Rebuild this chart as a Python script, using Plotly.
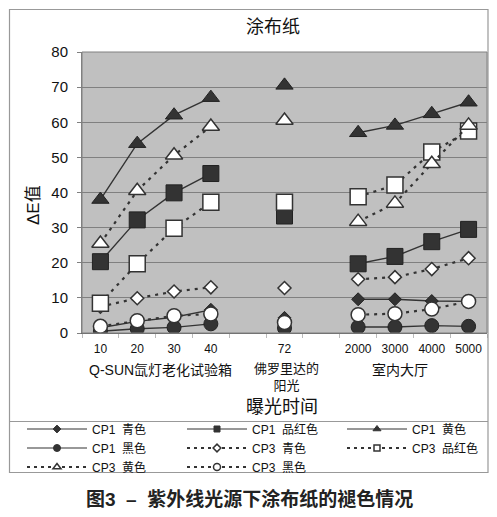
import plotly.graph_objects as go

# ---------------- data ----------------
categories = ["10", "20", "30", "40", " ", "72", "  ", "2000", "3000", "4000", "5000"]

cp1_cyan    = [1.5, 3.3, 4.5, 6.6, None, 4.3, None, 9.6, 9.6, 9.1, 9.0]
cp1_magenta = [20.3, 32.2, 39.9, 45.4, None, 33.3, None, 19.7, 21.8, 26.0, 29.5]
cp1_yellow  = [38.0, 53.9, 62.0, 67.0, None, 70.5, None, 57.0, 59.1, 62.4, 65.7]
cp1_black   = [0.5, 1.2, 1.6, 2.6, None, 1.4, None, 1.7, 1.7, 2.1, 1.9]
cp3_cyan    = [7.5, 9.9, 11.8, 13.0, None, 12.8, None, 15.3, 15.9, 18.2, 21.3]
cp3_magenta = [8.5, 19.7, 29.8, 37.2, None, 37.2, None, 38.8, 42.1, 51.5, 57.5]
cp3_yellow  = [25.5, 40.5, 50.6, 58.8, None, 60.5, None, 31.7, 36.9, 48.2, 59.1]
cp3_black   = [1.9, 3.5, 4.9, 5.4, None, 3.0, None, 5.2, 5.5, 6.8, 9.0]

series_names = ["CP1  青色", "CP1  品红色", "CP1  黄色", "CP1  黑色",
                "CP3  青色", "CP3  品红色", "CP3  黄色", "CP3  黑色"]
series_values = [cp1_cyan, cp1_magenta, cp1_yellow, cp1_black,
                 cp3_cyan, cp3_magenta, cp3_yellow, cp3_black]

group_labels = ["Q-SUN氙灯老化试验箱", "佛罗里达的<br>阳光", "室内大厅"]
group_pos = [1.62, 5.05, 8.14]

title_text = "涂布纸"
y_title = "ΔE值"
x_title = "曝光时间"
caption = "<b>图3  –  紫外线光源下涂布纸的褪色情况</b>"

# ---------------- styles ----------------
DARK = "#333333"
symbols = ["diamond", "square", "triangle-up", "circle"] * 2
sizes = [10, 16, 15, 14, 10, 16, 15, 14]
leg_sizes = [6, 6, 7, 7, 6, 6, 7, 7]
FONT = "Liberation Sans, Arial, Noto Sans CJK SC, sans-serif"

# reference-pixel layout (page body has an 8px default margin)
OFF = 8
W, H = 497 - 2 * OFF, 517 - 2 * OFF
L, R, T, B = 82, 487, 52, 333          # plot area in reference pixels
PW, PH = R - L, B - T


def px_x(px):
    return (px - L) / PW


def px_y(py):
    return (B - py) / PH


fig = go.Figure()

for i, (name, vals) in enumerate(zip(series_names, series_values)):
    cp3 = i >= 4
    line = dict(color=DARK, width=2.2 if cp3 else 1.4,
                dash="3px,5px" if cp3 else "solid")
    fill = "white" if cp3 else DARK
    fig.add_trace(go.Scatter(
        x=categories, y=vals, mode="lines+markers", name=name,
        showlegend=False, connectgaps=False, line=line,
        marker=dict(symbol=symbols[i], size=sizes[i], color=fill,
                    line=dict(color=DARK if cp3 else "#222222", width=1.5 if cp3 else 1)),
    ))

for i, name in enumerate(series_names):
    cp3 = i >= 4
    fig.add_trace(go.Scatter(
        x=[None], y=[None], mode="lines+markers", name=name, showlegend=True,
        line=dict(color=DARK, width=2 if cp3 else 1.2,
                  dash="3px,4px" if cp3 else "solid"),
        marker=dict(symbol=symbols[i], size=leg_sizes[i],
                    color="white" if cp3 else DARK,
                    line=dict(color=DARK, width=1.5 if cp3 else 1)),
    ))

annotations = [
    dict(text=title_text, xref="paper", yref="paper", x=px_x(273), y=px_y(27),
         showarrow=False, font=dict(size=18, color="#111111"), xanchor="center", yanchor="middle"),
    dict(text=y_title, xref="paper", yref="paper", x=px_x(33), y=px_y(205),
         showarrow=False, textangle=-90, font=dict(size=17, color="#111111"),
         xanchor="center", yanchor="middle"),
    dict(text=x_title, xref="paper", yref="paper", x=px_x(282), y=px_y(407),
         showarrow=False, font=dict(size=18, color="#111111"), xanchor="center", yanchor="middle"),
    dict(text=caption, xref="paper", yref="paper", x=px_x(249), y=px_y(499),
         showarrow=False, font=dict(size=19, color="#222222"), xanchor="center", yanchor="middle"),
]
for lab, pos in zip(group_labels, group_pos):
    two = "<br>" in lab
    annotations.append(dict(text=lab, xref="x", yref="paper", x=pos,
                            y=px_y(377 if two else 370),
                            showarrow=False, font=dict(size=13 if two else 14, color="#111111"),
                            xanchor="center", yanchor="middle"))

shapes = [
    # outer frame
    dict(type="rect", xref="paper", yref="paper", x0=px_x(9.5), x1=px_x(488),
         y0=px_y(472.5), y1=px_y(9.5), line=dict(color="#999999", width=1.2)),
    # separator above legend
    dict(type="line", xref="paper", yref="paper", x0=px_x(9.5), x1=px_x(488),
         y0=px_y(421.5), y1=px_y(421.5), line=dict(color="#999999", width=1.2)),
    # plot area border
    dict(type="rect", xref="paper", yref="paper", x0=0, x1=1, y0=0, y1=1,
         line=dict(color="#808080", width=1), layer="above"),
]

fig.update_layout(
    width=W, height=H,
    margin=dict(l=L - OFF, r=W - (R - OFF), t=T - OFF, b=H - (B - OFF), autoexpand=False),
    paper_bgcolor="white", plot_bgcolor="#C0C0C0",
    font=dict(family=FONT, color="#111111"),
    annotations=annotations, shapes=shapes,
    legend=dict(orientation="h", x=px_x(22), y=px_y(414.5), xanchor="left", yanchor="top",
                itemwidth=60, entrywidth=85, entrywidthmode="pixels", font=dict(size=12),
                bgcolor="rgba(0,0,0,0)", traceorder="normal", itemclick=False),
    xaxis=dict(type="category", categoryorder="array", categoryarray=categories,
               range=[-0.5, len(categories) - 0.5], showgrid=False, zeroline=False,
               showline=True, linecolor="#666666", linewidth=1,
               ticks="outside", tickson="boundaries", ticklen=4, tickcolor="#BBBBBB",
               ticklabelstandoff=5, tickfont=dict(size=12), fixedrange=True),
    yaxis=dict(range=[0, 80], dtick=10, showgrid=True, gridcolor="#808080", gridwidth=1,
               zeroline=False, showline=True, linecolor="#808080", linewidth=1,
               ticks="outside", ticklen=4, tickcolor="#808080", ticklabelstandoff=6,
               tickfont=dict(size=15), fixedrange=True),
)

fig.write_html("out.html")
